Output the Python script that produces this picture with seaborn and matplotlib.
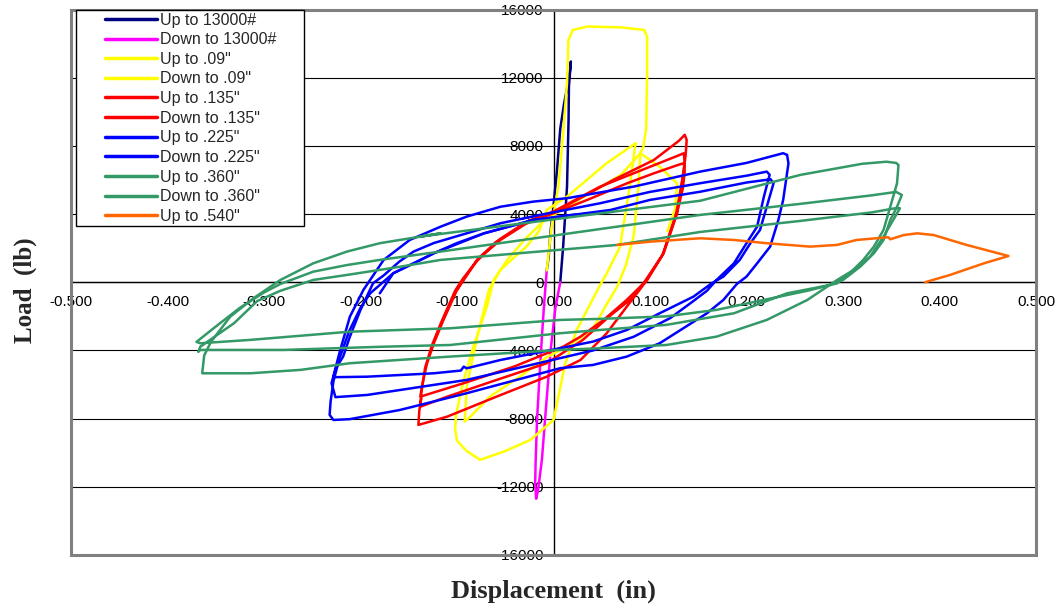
import matplotlib
matplotlib.use('Agg')
import matplotlib.pyplot as plt
from matplotlib.lines import Line2D
from matplotlib.patches import Rectangle
from matplotlib.ticker import FuncFormatter, MultipleLocator
import seaborn as sns
import pandas as pd

# series names and colours (Excel-like)
labels = ['Up to 13000#', 'Down to 13000#', 'Up to .09"', 'Down to .09"',
          'Up to .135"', 'Down to .135"', 'Up to .225"', 'Down to .225"',
          'Up to .360"', 'Down to .360"', 'Up to .540"']
colors = ['#000080', '#FF00FF', '#FFFF00', '#FFFF00', '#FF0000', '#FF0000',
          '#0000FF', '#0000FF', '#339966', '#339966', '#FF6600']

# displacement (in) / load (lb)
up13000_x = [0.007, 0.010, 0.014, 0.0156, 0.016, 0.018, 0.0165, 0.011, 0.007, 0.0035, 0.0, -0.003, -0.005, -0.007]
up13000_y = [0, 2100, 5600, 9500, 11500, 12950, 12100, 10500, 9000, 6500, 4500, 3000, 1500, 700]

down13000_x = [-0.007, -0.010, -0.012, -0.015, -0.017, -0.0185, -0.019, -0.018, -0.016, -0.012, -0.008, -0.003, 0.002, 0.007]
down13000_y = [700, -1500, -3200, -6000, -8000, -10500, -11800, -12700, -12200, -10400, -7500, -4000, -1500, 0]

up09_x = [-0.007, -0.002, 0.005, 0.010, 0.014, 0.0155, 0.02, 0.035, 0.07, 0.094, 0.097, 0.097, 0.096, 0.093,
          0.09, 0.088, 0.083, 0.075, 0.066, 0.055, 0.041, 0.028, 0.01, -0.007, -0.035, -0.066, -0.086,
          -0.092, -0.091, -0.09, -0.079, -0.067, -0.055, -0.04, -0.028, -0.015, -0.007, 0.014, 0.055, 0.085]
up09_y = [700, 3260, 5600, 8740, 11670, 14200, 14800, 15000, 14950, 14800, 14400, 12000, 9000, 7900,
          7570, 5600, 2680, 1000, -260, -1300, -2700, -3250, -3900, -4400, -5540, -6710, -7880,
          -8170, -7300, -6120, -3190, -450, 720, 1500, 2090, 3000, 4240, 5020, 6980, 8150]

down09_x = [0.085, 0.079, 0.069, 0.055, 0.047, 0.036, 0.024, 0.012, 0.004, 0.0, -0.024, -0.05, -0.076,
            -0.09, -0.1, -0.102, -0.101, -0.097, -0.093, -0.083, -0.069, -0.062, -0.048, -0.03, -0.01,
            0.01, 0.04, 0.07, 0.09, 0.11, 0.128, 0.126, 0.118]
down09_y = [8150, 5600, 2090, 500, -300, -1500, -2800, -4800, -7000, -8080, -9250, -9900, -10420,
            -9900, -9300, -8600, -7800, -6700, -5730, -3780, -1430, 135, 1300, 2500, 3600,
            4300, 5300, 6300, 7570, 6780, 5800, 4300, 3000]

up135_x = [-0.1, -0.093, -0.079, -0.055, -0.028, 0.0, 0.035, 0.076, 0.104, 0.13, 0.135, 0.136, 0.134,
           0.128, 0.114, 0.097, 0.076, 0.052, 0.028, 0.010, -0.041, -0.093, -0.138, -0.136, -0.131,
           -0.124, -0.114, -0.1, -0.092, -0.078, -0.055, -0.028, 0.0, 0.048, 0.083, 0.13, 0.135, 0.136,
           0.133, 0.127, 0.113, 0.094]
up135_y = [-450, 135, 1310, 2480, 3460, 4050, 4830, 5800, 6390, 6900, 6980, 6500, 5500,
           4050, 1700, 135, -1030, -2210, -3190, -3780, -4950, -5920, -6710, -6000, -4750,
           -3580, -2210, -450, 300, 1400, 2550, 3550, 4150, 5600, 6390, 7450, 7570, 7000,
           5800, 4000, 1600, 0]

down135_x = [0.094, 0.08, 0.06, 0.03, -0.007, -0.059, -0.11, -0.138, -0.137, -0.133, -0.126, -0.116,
             -0.102, -0.094, -0.08, -0.06, -0.03, 0.0, 0.03, 0.062, 0.104, 0.13, 0.136, 0.138, 0.137,
             0.135, 0.128, 0.114, 0.097, 0.075, 0.055, 0.028, -0.007, -0.059, -0.11, -0.14, -0.139, -0.137]
down135_y = [0, -1000, -1900, -3400, -4750, -5730, -6710, -7300, -6500, -5000, -3700, -2300,
             -500, 200, 1200, 2350, 3400, 4100, 5000, 6000, 7170, 8300, 8650, 8350, 7500,
             6590, 4050, 1700, 135, -1500, -3000, -4560, -5540, -6710, -7880, -8370, -7500, -6800]

up225_x = [-0.18, -0.166, -0.124, -0.072, -0.021, 0.059, 0.1, 0.152, 0.2, 0.225, 0.228, 0.221, 0.214,
           0.204, 0.193, 0.176, 0.164, 0.145, 0.11, 0.076, 0.041, 0.007, -0.055, -0.09, -0.093, -0.096,
           -0.124, -0.193, -0.228, -0.225, -0.218, -0.211, -0.2, -0.187, -0.176, -0.16, -0.145, -0.124,
           -0.09, -0.055, -0.014, 0.048, 0.1, 0.152, 0.2, 0.221, 0.224, 0.218, 0.211, 0.2, 0.187, 0.169,
           0.159, 0.145, 0.121, 0.083, 0.041, 0.007, -0.09, -0.159, -0.193, -0.226, -0.23, -0.221,
           -0.211, -0.197, -0.176, -0.149, -0.117, -0.09, -0.055, -0.021, 0.014, 0.083, 0.152, 0.2,
           0.238, 0.242]
up225_y = [-650, 530, 1700, 2870, 3650, 4240, 4830, 5310, 5850, 6040, 5800, 4430, 3070,
           2290, 1310, 330, -60, -845, -1820, -2800, -3480, -3870, -4560, -5050, -4950, -5180,
           -5340, -5540, -5570, -5000, -4360, -3190, -1620, -60, 400, 1200, 1800, 2300,
           2870, 3460, 3950, 4630, 5300, 5810, 6250, 6490, 6300, 5020, 3260, 2290, 1110, 135,
           -500, -1100, -2100, -3200, -4000, -4450, -5730, -6320, -6610, -6740, -5920, -3970,
           -2020, -450, 1310, 2480, 3260, 3850, 4430, 4730, 4930, 5610, 6490, 7000,
           7570, 7470]

down225_x = [0.242, 0.2435, 0.238, 0.233, 0.2245, 0.211, 0.2, 0.19, 0.176, 0.159, 0.11, 0.076, 0.041,
             0.007, -0.09, -0.159, -0.211, -0.228, -0.232, -0.231, -0.228, -0.222, -0.212, -0.2, -0.19,
             -0.166, -0.145, -0.124, -0.1, -0.072, -0.021, 0.02, 0.062]
down225_y = [7470, 6980, 4830, 3650, 2090, 1110, 330, -100, -1040, -1820, -3580, -4360, -4850,
             -5040, -6510, -7490, -8030, -8080, -7780, -7000, -5800, -4500, -2900, -1500, -650,
             530, 1100, 1700, 2300, 2870, 3650, 3950, 4140]

up360_x = [0.062, 0.152, 0.256, 0.32, 0.345, 0.355, 0.3575, 0.356, 0.349, 0.342, 0.332, 0.321, 0.307,
           0.294, 0.263, 0.221, 0.169, 0.117, 0.048, 0.007, -0.107, -0.211, -0.314, -0.366, -0.37,
           -0.35, -0.325, -0.3, -0.283, -0.249, -0.214, -0.18, -0.117, 0.152, 0.256, 0.33, 0.355,
           0.361, 0.356, 0.349, 0.342, 0.332, 0.318, 0.3, 0.283, 0.242, 0.187, 0.117, 0.048, 0.007,
           -0.107, -0.176, -0.28, -0.366, -0.368]
up360_y = [4140, 4780, 6300, 6950, 7070, 7000, 6880, 5810, 4430, 3070, 2090, 1310, 530,
           -60, -500, -1000, -1620, -2000, -2150, -2210, -2700, -2900, -3380, -3580, -3500,
           -2600, -1500, -600, -100, 620, 1010, 1310, 1800, 3950, 4600, 5100, 5300,
           5120, 4430, 3650, 2480, 1700, 920, 135, -200, -650, -1820, -2500, -2800, -2990,
           -3680, -3780, -3970, -3970, -4070]

down360_x = [-0.368, -0.366, -0.331, -0.307, -0.283, -0.249, -0.214, -0.16, -0.117, 0.066, 0.152, 0.256,
             0.33, 0.355, 0.359, 0.352, 0.342, 0.328, 0.311, 0.294, 0.263, 0.221, 0.169, 0.117, 0.048,
             0.007, -0.107, -0.211, -0.262, -0.314, -0.364, -0.362, -0.355, -0.335, -0.311, -0.283,
             -0.249, -0.214, -0.18, -0.117, -0.138, 0.062]
down360_y = [-4070, -3780, -2400, -1100, -500, 135, 430, 900, 1310, 2190, 2950, 3600,
             4100, 4350, 4340, 3650, 2680, 1500, 720, 135, -1040, -2210, -3190, -3680, -3870,
             -3970, -4360, -4750, -5140, -5340, -5340, -4300, -3500, -2020, -940, 135,
             1110, 1800, 2290, 2870, 2680, 4140]

up540_x = [0.066, 0.1, 0.152, 0.187, 0.221, 0.266, 0.294, 0.314, 0.347, 0.349, 0.363, 0.377, 0.394,
           0.428, 0.4715, 0.446, 0.411, 0.385]
up540_y = [2190, 2380, 2580, 2480, 2290, 2090, 2190, 2480, 2640, 2520, 2770, 2870, 2770,
           2190, 1540, 1110, 430, 0]

all_x = [up13000_x, down13000_x, up09_x, down09_x, up135_x, down135_x, up225_x, down225_x, up360_x, down360_x, up540_x]
all_y = [up13000_y, down13000_y, up09_y, down09_y, up135_y, down135_y, up225_y, down225_y, up360_y, down360_y, up540_y]

rows = []
for name, xs, ys in zip(labels, all_x, all_y):
    for x, y in zip(xs, ys):
        rows.append({'series': name, 'disp': x, 'load': y})
df = pd.DataFrame(rows)

sns.set_style('white')
plt.rcParams['font.family'] = ['Liberation Sans', 'DejaVu Sans']

fig = plt.figure(figsize=(10.6, 6.13), dpi=100)
ax = fig.add_axes([71 / 1060, 58 / 613, 965 / 1060, 545.5 / 613])

sns.lineplot(data=df, x='disp', y='load', hue='series', hue_order=labels,
             palette=dict(zip(labels, colors)), sort=False, estimator=None,
             lw=1.8, legend=False, ax=ax)

ax.set_xlim(-0.5, 0.5)
ax.set_ylim(-16000, 16000)
ax.xaxis.set_major_locator(MultipleLocator(0.1))
ax.yaxis.set_major_locator(MultipleLocator(4000))
ax.xaxis.set_major_formatter(FuncFormatter(lambda v, p: '0.000' if abs(v) < 1e-9 else f'{v:.3f}'))
ax.yaxis.set_major_formatter(FuncFormatter(lambda v, p: f'{int(round(v))}'))

# axes cross at the origin, gray frame round the plot area
for side in ['left', 'bottom']:
    ax.spines[side].set_position(('data', 0))
    ax.spines[side].set_color('black')
    ax.spines[side].set_linewidth(1)
    ax.spines[side].set_zorder(1.5)
ax.spines['top'].set_visible(False)
ax.spines['right'].set_visible(False)
ax.add_patch(Rectangle((0, 0), 1, 1, transform=ax.transAxes, fill=False,
                       ec='#808080', lw=2.2, clip_on=False, zorder=5))

ax.tick_params(axis='x', direction='out', length=4, width=1, pad=5, labelsize=11, colors='black')
ax.tick_params(axis='y', direction='out', length=4, width=1, pad=3, labelsize=11, colors='black')
ax.yaxis.grid(True, color='black', lw=0.8)
ax.xaxis.grid(False)
ax.set_axisbelow(True)
ax.set_xlabel('')
ax.set_ylabel('')

fig.text(0.522, 0.036, 'Displacement  (in)', ha='center', va='center',
         family='Liberation Serif', fontweight='bold', fontsize=19)
fig.text(0.024, 0.527, 'Load  (lb)', ha='center', va='center', rotation=90,
         family='Liberation Serif', fontweight='bold', fontsize=18)

# legend box in the top-left corner
handles = [Line2D([0], [0], color=c, lw=2.5) for c in colors]
leg = fig.legend(handles, labels, loc='upper left', bbox_to_anchor=(105 / 1060, 1 - 12.5 / 613),
                 frameon=False, fontsize=11.5, handlelength=3.25, handletextpad=0.2,
                 labelspacing=0.29, borderpad=0, borderaxespad=0)
fig.add_artist(Rectangle((75.5 / 1060, 1 - 226 / 613), 228.5 / 1060, 216 / 613,
                         transform=fig.transFigure, fill=True, fc='white', ec='black', lw=1, zorder=0.5))
leg.set_zorder(6)

fig.savefig('out.png', dpi=100)
